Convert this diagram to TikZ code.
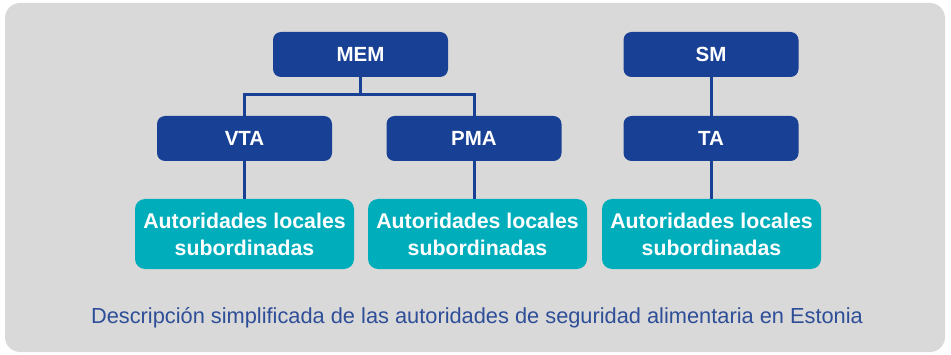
\documentclass[tikz,border=0pt]{standalone}
\usepackage{fontspec}
\setmainfont{Liberation Sans}
\usepackage{tikz}
\usetikzlibrary{positioning}

\definecolor{orgblue}{RGB}{24,64,148}
\definecolor{orgteal}{RGB}{0,174,187}
\definecolor{panelgray}{RGB}{217,217,217}
\definecolor{captionblue}{RGB}{46,78,152}

\begin{document}
\begin{tikzpicture}[x=1pt, y=1pt,
    authority/.style={rectangle, rounded corners=8pt, fill=orgblue, text=white,
        minimum width=175pt, minimum height=45pt, inner sep=0pt,
        font=\fontsize{20.5}{24}\selectfont\bfseries},
    localbox/.style={rectangle, rounded corners=10pt, fill=orgteal, text=white,
        minimum width=219pt, minimum height=70pt, inner sep=0pt, align=center,
        font=\fontsize{21.3}{27}\selectfont\bfseries},
    link/.style={draw=orgblue, line width=3pt}]
        \useasboundingbox (0,0) rectangle (951,354);
        \fill[panelgray, rounded corners=15pt] (5,2) rectangle (945,351);

        \coordinate (bus) at (360.5,259);

        \node[authority] (mem) at (360.5,299.5) {MEM};
        \node[authority] (vta) at (244.5,215.5) {VTA};
        \node[authority] (pma) at (474,215.5) {PMA};
        \node[authority] (sm)  at (711,299.5) {SM};
        \node[authority] (ta)  at (711,215.5) {TA};

        \node[localbox] (loc1) at (244.5,120) {Autoridades locales\\subordinadas};
        \node[localbox] (loc2) at (477.5,120) {Autoridades locales\\subordinadas};
        \node[localbox] (loc3) at (711.5,120) {Autoridades locales\\subordinadas};

        \node[text=captionblue, font=\fontsize{21.8}{26}\selectfont] (caption) at (477,36)
            {Descripción simplificada de las autoridades de seguridad alimentaria en Estonia};

        \draw[link] (mem.south) -- (bus);
        \draw[link] (vta.north) |- (bus) -| (pma.north);

        \draw[link] (sm.south) -- (ta.north);

        \draw[link] (vta.south) -- (loc1.north);
        \draw[link] (pma.south) -- (pma.south |- loc2.north);
        \draw[link] (ta.south) -- (ta.south |- loc3.north);
      \end{tikzpicture}
\end{document}
